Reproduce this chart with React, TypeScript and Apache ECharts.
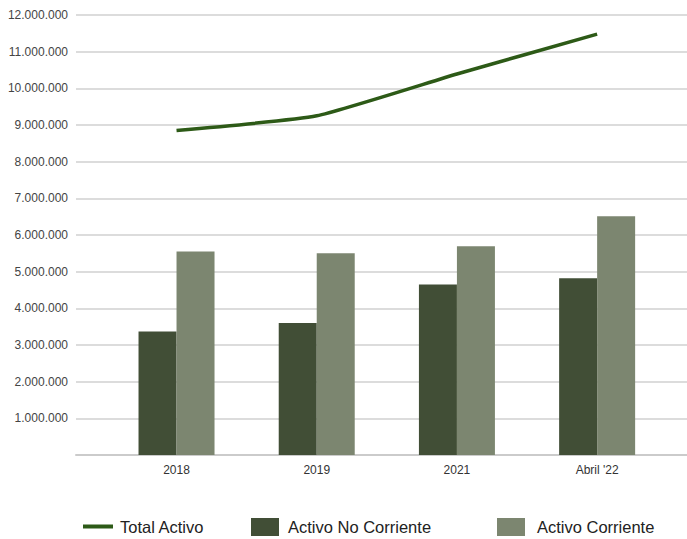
import React, { useEffect, useRef } from "react";
import * as echarts from "echarts";

const categories = ["2018", "2019", "2021", "Abril '22"];
const activoNoCorriente = [3370000, 3600000, 4650000, 4820000];
const activoCorriente = [5550000, 5500000, 5690000, 6510000];
const totalActivo = [8850000, 9250000, 10390000, 11480000];
const yTicks = [0, 1000000, 2000000, 3000000, 4000000, 5000000, 6000000, 7000000, 8000000, 9000000, 10000000, 11000000, 12000000];

const fmt = (v: number) => (v === 0 ? "" : String(Math.round(v)).replace(/\B(?=(\d{3})+(?!\d))/g, "."));

export default function App() {
  const ref = useRef<HTMLDivElement>(null);
  useEffect(() => {
    const chart = echarts.init(ref.current!, null, { renderer: "svg" });
    const idx = categories.map((_, i) => i);
    const legendText = (pad: number) => ({ fontSize: 16.5, color: "#222", padding: [0, 0, 0, pad] });
    chart.setOption({
      animation: false,
      textStyle: { fontFamily: "Liberation Sans, Arial, sans-serif" },
      grid: { left: 76, right: 0, top: 15, bottom: 84, containLabel: false },
      legend: [
        {
          data: [{ name: "Total Activo", icon: "rect" }],
          left: 78,
          top: 513,
          itemWidth: 30,
          itemHeight: 4,
          textStyle: legendText(2),
        },
        {
          data: [{ name: "Activo No Corriente", icon: "rect" }],
          left: 246,
          top: 513,
          itemWidth: 28,
          itemHeight: 18,
          textStyle: legendText(4),
        },
        {
          data: [{ name: "Activo Corriente", icon: "rect" }],
          left: 492,
          top: 513,
          itemWidth: 28,
          itemHeight: 18,
          textStyle: legendText(7),
        },
      ],
      xAxis: {
        type: "value",
        min: -0.717,
        max: 3.641,
        splitLine: { show: false },
        axisTick: { show: false },
        axisLine: { show: true, lineStyle: { color: "#cbcbcb", width: 2 } },
        axisLabel: {
          customValues: idx,
          formatter: (v: number) => categories[Math.round(v)] ?? "",
          color: "#333",
          fontSize: 12,
          margin: 9,
        },
      },
      yAxis: {
        type: "value",
        min: yTicks[0],
        max: yTicks[yTicks.length - 1],
        interval: 1000000,
        axisLine: { show: false },
        axisTick: { show: false },
        axisLabel: { formatter: fmt, color: "#444", fontSize: 12, margin: 8 },
        splitLine: { lineStyle: { color: "#dcdcdc", width: 2 } },
      },
      series: [
        {
          name: "Activo No Corriente",
          type: "bar",
          data: idx.map((i) => [i, activoNoCorriente[i]]),
          barWidth: 38,
          barGap: "0%",
          itemStyle: { color: "#414e36" },
        },
        {
          name: "Activo Corriente",
          type: "bar",
          data: idx.map((i) => [i, activoCorriente[i]]),
          barWidth: 38,
          barGap: "0%",
          itemStyle: { color: "#7c8670" },
        },
        {
          name: "Total Activo",
          type: "line",
          data: idx.map((i) => [i, totalActivo[i]]),
          showSymbol: false,
          symbol: "none",
          smooth: 0.15,
          lineStyle: { color: "#2d5a17", width: 3.5 },
          itemStyle: { color: "#2d5a17" },
          z: 5,
        },
      ],
    });
    return () => chart.dispose();
  }, []);
  return <div ref={ref} style={{ width: 687, height: 539, position: "absolute", left: 0, top: 0 }} />;
}
